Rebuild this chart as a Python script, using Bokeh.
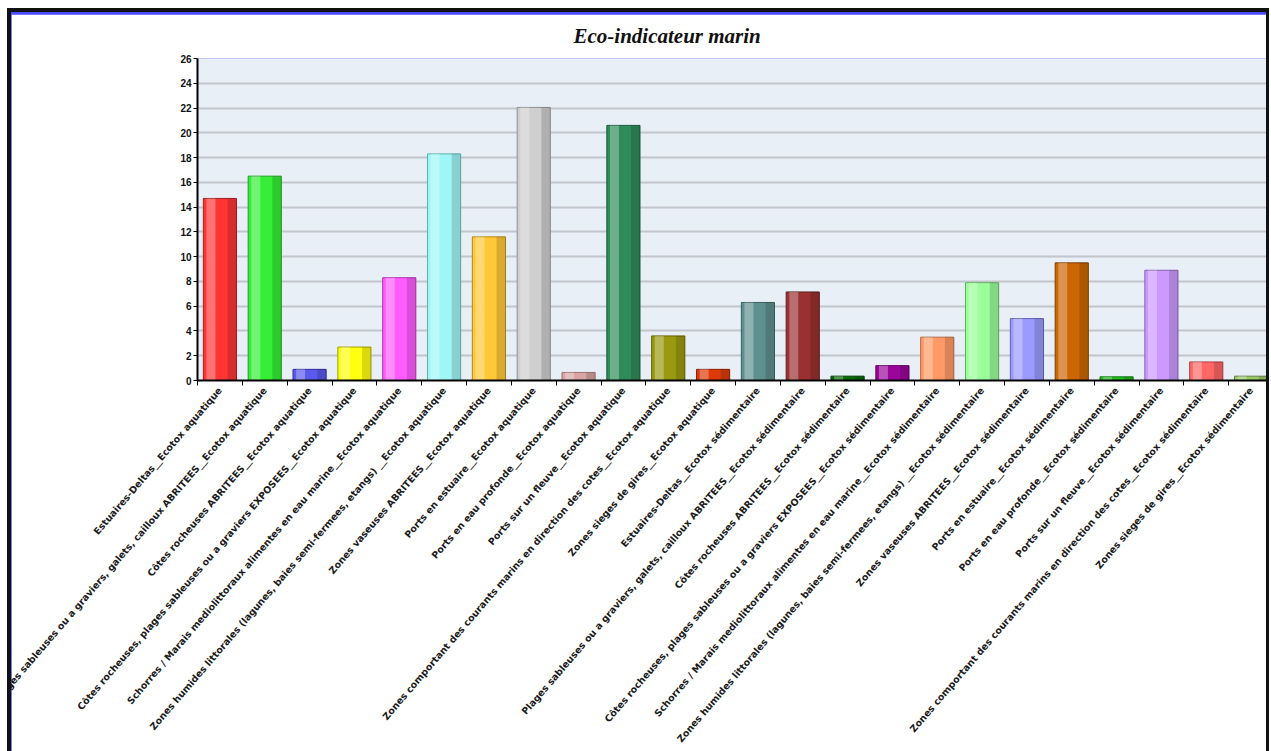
from bokeh.plotting import figure
from bokeh.models import ColumnDataSource, FixedTicker, Range1d, SingleIntervalTicker
from bokeh.transform import dodge
from bokeh.embed import file_html
from bokeh.resources import INLINE

zones = [
    "Estuaires-Deltas",
    "Plages sableuses ou a graviers, galets, cailloux ABRITEES",
    "Côtes rocheuses ABRITEES",
    "Côtes rocheuses, plages sableuses ou a graviers EXPOSEES",
    "Schorres / Marais mediolittoraux alimentes en eau marine",
    "Zones humides littorales (lagunes, baies semi-fermees, etangs) ",
    "Zones vaseuses ABRITEES",
    "Ports en estuaire",
    "Ports en eau profonde",
    "Ports sur un fleuve",
    "Zones comportant des courants marins en direction des cotes",
    "Zones sieges de gires",
]
compartments = ["Ecotox aquatique", "Ecotox sédimentaire"]
categories = [z + "__" + c for c in compartments for z in zones]

values_aquatique = [14.7, 16.5, 0.9, 2.7, 8.3, 18.3, 11.6, 22.05, 0.65, 20.6, 3.6, 0.9]
values_sedimentaire = [6.3, 7.15, 0.35, 1.2, 3.5, 7.9, 5.0, 9.5, 0.3, 8.9, 1.5, 0.35]
values = values_aquatique + values_sedimentaire

colors = ["#ff3535", "#35ee35", "#5a5aee", "#ffff10", "#ff5cff", "#a0f6f6",
          "#ffc838", "#cfcfcf", "#d8a4a4", "#2e8b5a", "#9a9a10", "#dd3a08",
          "#5f9090", "#9a3030", "#0a6a0a", "#9a069a", "#ff9a66", "#9aff9a",
          "#9a9aff", "#cc6600", "#22bb22", "#cc99ff", "#ff6666", "#99cc66"]
edges = ["#a02020", "#20a020", "#3030a0", "#a0a000", "#b030b0", "#60b0b0",
         "#b08820", "#909090", "#a07070", "#1a5a38", "#606000", "#902000",
         "#3a6060", "#602020", "#004000", "#600060", "#b06a40", "#60b060",
         "#6060b0", "#804000", "#108010", "#8a60b0", "#b04040", "#608040"]

n = len(categories)
centers = [i + 0.5 for i in range(n)]
src = ColumnDataSource(dict(x=centers, top=values, color=colors, edge=edges))

p = figure(width=1262, height=743, output_backend="svg", toolbar_location=None,
           x_range=Range1d(0, n), y_range=Range1d(0, 26),
           min_border_left=186, min_border_right=0, min_border_top=43, min_border_bottom=377,
           background_fill_color="#e8eff7", border_fill_color="white",
           title="Eco-indicateur marin")
p.outline_line_color = None
p.styles = {"margin-left": "7px", "margin-top": "8px",
            "border-left": "4px solid #111", "border-top": "4px solid #111",
            "border-right": "3px solid #111", "padding-top": "2px",
            "background-color": "#4a4aff", "box-sizing": "border-box"}

p.title.text_font = "Liberation Serif"
p.title.text_font_style = "bold italic"
p.title.text_font_size = "21px"
p.title.text_color = "#111111"
p.title.align = "left"
p.title.offset = 376
p.title.standoff = 18
p.title.vertical_align = "top"

p.vbar(x="x", top="top", width=0.74, source=src, fill_color="color", line_color="edge", line_width=1)
p.vbar(x=dodge("x", -0.2, range=p.x_range), top="top", width=0.2, source=src,
       fill_color="white", fill_alpha=0.3, line_color=None)
p.vbar(x=dodge("x", 0.27, range=p.x_range), top="top", width=0.2, source=src,
       fill_color="black", fill_alpha=0.15, line_color=None)

p.xgrid.grid_line_color = None
p.ygrid.ticker = SingleIntervalTicker(interval=2)
p.ygrid.grid_line_color = "#c2c6cc"
p.ygrid.grid_line_width = 2

p.yaxis.ticker = SingleIntervalTicker(interval=2)
p.yaxis.axis_line_width = 2
p.yaxis.axis_line_color = "black"
p.yaxis.major_tick_in = 0
p.yaxis.major_tick_out = 4
p.yaxis.minor_tick_line_color = None
p.yaxis.major_label_text_font = "Liberation Sans"
p.yaxis.major_label_text_font_style = "bold"
p.yaxis.major_label_text_font_size = "10px"
p.yaxis.major_label_text_color = "#111111"
p.yaxis.major_label_standoff = 2

p.xaxis.ticker = FixedTicker(ticks=centers, minor_ticks=list(range(n + 1)))
p.xaxis.major_label_overrides = {c: lab for c, lab in zip(centers, categories)}
p.xaxis.major_label_orientation = 0.86
p.xaxis.major_label_text_font = "DejaVu Sans"
p.xaxis.major_label_text_font_style = "bold"
p.xaxis.major_label_text_font_size = "9.5px"
p.xaxis.major_label_text_color = "#1a1a1a"
p.xaxis.major_label_standoff = 3
p.xaxis.axis_line_width = 2
p.xaxis.axis_line_color = "black"
p.xaxis.major_tick_in = 0
p.xaxis.major_tick_out = 0
p.xaxis.minor_tick_in = 0
p.xaxis.minor_tick_out = 5
p.xaxis.minor_tick_line_color = "black"

open("out.html", "w").write(file_html(p, INLINE))
